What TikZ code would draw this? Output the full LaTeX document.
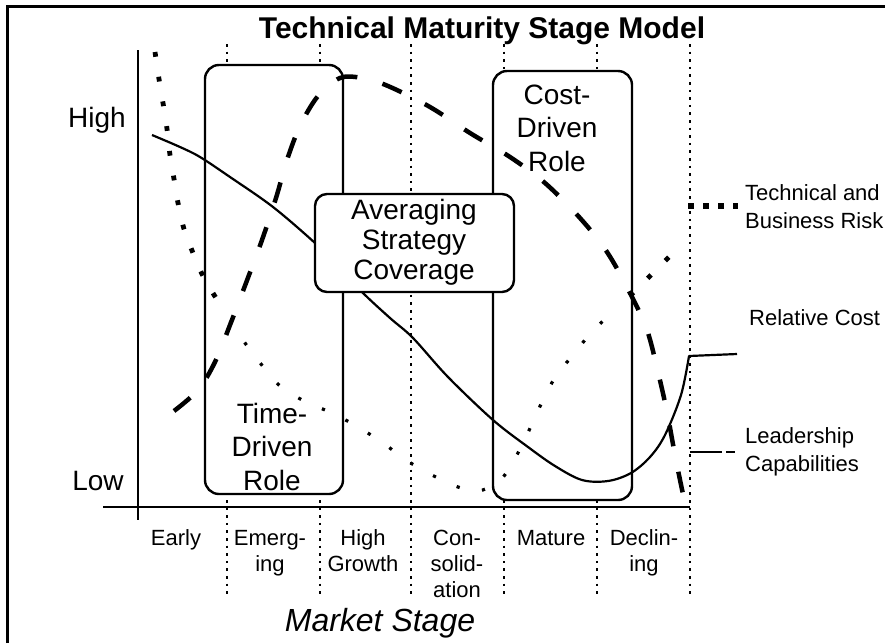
\documentclass[tikz,border=0pt]{standalone}
\usepackage{fontspec}
\setmainfont{Liberation Sans}
\begin{document}
\begin{tikzpicture}[x=1pt,y=-1pt,
  frameline/.style={line width=3pt},
  axisline/.style={line width=2.6pt},
  stagesep/.style={line width=2.6pt, dash pattern=on 2.6pt off 5pt},
  rolebox/.style={draw, line width=2.4pt, rounded corners=14pt, fill=white, inner sep=0pt},
  bigtxt/.style={font=\fontsize{28}{33.5}\selectfont, align=center, inner sep=0pt},
  avgtxt/.style={font=\fontsize{28}{30}\selectfont, align=center, inner sep=0pt},
  stagetxt/.style={font=\fontsize{22}{26}\selectfont, align=center, inner sep=0pt},
  legtxt/.style={font=\fontsize{22}{28}\selectfont, align=left, inner sep=0pt, anchor=base west},
  riskline/.style={line width=4.8pt, dash pattern=on 4.8pt off 20.2pt},
  riskthin/.style={line width=3.2pt, dash pattern=on 3.2pt off 22.8pt},
  costline/.style={line width=2.2pt, line join=round},
  leadline/.style={line width=4.5pt, dash pattern=on 21pt off 26pt},
]
\useasboundingbox (0,0) rectangle (885,643);

% outer frame (left and top edges)
\draw[frameline] (7.5,643) -- (7.5,6.5) -- (885,6.5);

% title
\node[font=\fontsize{30}{36}\selectfont\bfseries, anchor=base, inner sep=0pt] (title) at (482,38) {Technical Maturity Stage Model};

% stage separators
\foreach \sx in {227,320,411,504,597,690}
  \draw[stagesep] (\sx,44) -- (\sx,598);

% role boxes behind the curves (multi-line nodes: base = last baseline)
\node[rolebox, minimum width=138pt, minimum height=429pt] (timebox) at (274,279.5) {};
\node[rolebox, minimum width=139pt, minimum height=429pt] (costbox) at (562.5,285.5) {};
\node[bigtxt, anchor=base] (timetxt) at (272,490) {Time-\\Driven\\Role};
\node[bigtxt, anchor=base] (costtxt) at (557,171) {Cost-\\Driven\\Role};

% technical and business risk: heavy dots at both ends, light dots between
\draw[riskline] plot[smooth, tension=0.55] coordinates {
  (155,52) (159,79) (163,103) (167,129) (170,155) (174,179) (178,203)
  (184,229) (193,253) (203,276) (216,298)};
\draw[riskthin] plot[smooth, tension=0.55] coordinates {
  (230,321) (245,343) (261,364)
  (279,385) (304,401) (332,413) (358,427) (383,443) (406,460) (430,474)
  (458,487) (478,491) (497,483) (509,469) (521,447) (532,424) (543,400)
  (556,376) (573,355) (590,334) (609,315)};
\draw[riskline] plot[smooth, tension=0.55] coordinates {
  (630,296) (650,276) (669,257)};

% relative cost
\draw[costline] plot[smooth, tension=0.55] coordinates {
  (152,135) (180,147) (200,157) (230,177) (273,207) (315,243) (340,268)
  (363,293) (390,318) (413,338) (448,377) (493,420) (528,447) (555,466)
  (582,480) (608,481) (631,473) (650,457) (665,435) (681,395) (689,356)}
  -- (737,354);

% leadership capabilities
\draw[leadline] plot[smooth, tension=0.55] coordinates {
  (174,411) (198,390) (215,362) (230,325) (246,283) (262,240) (276,198)
  (287,160) (300,126) (318,96) (340,78) (362,78) (388,86) (430,107)
  (470,133) (510,157) (545,183) (580,218) (607,252) (630,293) (647,330)
  (658,372) (667,412) (675,455) (683,494) (687,508)};

% averaging box on top
\node[rolebox, rounded corners=12pt, minimum width=199pt, minimum height=98pt] (avgbox) at (414.5,243) {};
\node[avgtxt, anchor=base] (avgtxt) at (414,279) {Averaging\\Strategy\\Coverage};

% axes
\draw[axisline] (138,50) -- (138,520);
\draw[axisline] (103,507) -- (690,507);
\node[font=\fontsize{28}{33}\selectfont, anchor=base, inner sep=0pt] (high) at (97,127) {High};
\node[font=\fontsize{28}{33}\selectfont, anchor=base, inner sep=0pt] (low) at (98,490) {Low};

% stage names
\node[stagetxt, anchor=base] (s1) at (176,545) {Early};
\node[stagetxt, anchor=base] (s2) at (270,571) {Emerg-\\ing};
\node[stagetxt, anchor=base] (s3) at (363,571) {High\\Growth};
\node[stagetxt, anchor=base] (s4) at (457,597) {Con-\\solid-\\ation};
\node[stagetxt, anchor=base] (s5) at (551,545) {Mature};
\node[stagetxt, anchor=base] (s6) at (644,571) {Declin-\\ing};
\node[font=\fontsize{32}{36}\selectfont\itshape, anchor=base, inner sep=0pt] (market) at (380,631) {Market Stage};

% legend
\draw[line width=5.5pt, dash pattern=on 5.5pt off 9.5pt] (688,206) -- (738,206);
\node[legtxt] (lrisk) at (745,228) {Technical and\\Business Risk};
\node[legtxt] (lcost) at (749,325) {Relative Cost};
\draw[line width=2.7pt, dash pattern=on 32pt off 4pt] (690,452) -- (735,452);
\node[legtxt] (llead) at (745,471) {Leadership\\Capabilities};
\end{tikzpicture}
\end{document}
